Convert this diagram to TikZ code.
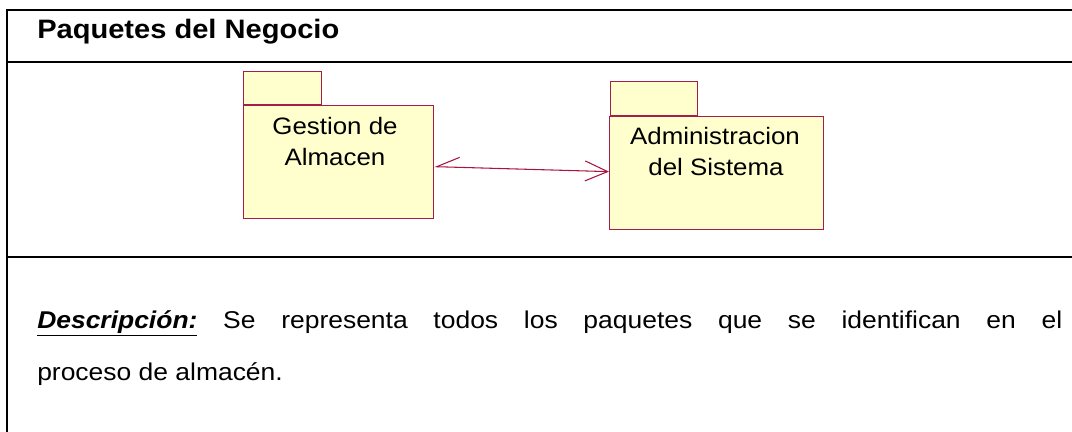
\documentclass[tikz,border=0pt]{standalone}
\usepackage{fontspec}
\usepackage{graphicx}
\setmainfont{Liberation Sans}
\usetikzlibrary{arrows.meta}
\definecolor{pkgline}{RGB}{165,30,75}
\definecolor{pkgfill}{RGB}{255,255,206}
\definecolor{assoc}{RGB}{170,20,65}
\newcommand\hstretch[1]{\scalebox{1.09}[1]{#1}}
\begin{document}
\begin{tikzpicture}[x=0.75pt,y=-0.75pt,
  frame/.style={line width=1.8pt,black},
  pkgbody/.style={draw=pkgline,fill=pkgfill,line width=0.9pt,rectangle,inner sep=0pt,anchor=north west},
  pkgtab/.style={draw=pkgline,fill=pkgfill,line width=0.9pt,rectangle,inner sep=0pt,anchor=south west},
  pkgtext/.style={inner sep=0pt,anchor=base,font=\fontsize{17.8pt}{21pt}\selectfont},
  titletext/.style={inner sep=0pt,anchor=base west,font=\fontsize{20pt}{24pt}\selectfont\bfseries},
  desctext/.style={inner sep=0pt,anchor=base west,font=\fontsize{18.2pt}{22pt}\selectfont},
  assocline/.style={draw=assoc,line width=0.8pt}
]
\useasboundingbox (0,0) rectangle (1072,432);
% frame
\coordinate (tl) at (7,10);
\coordinate (tr) at (1072,10);
\coordinate (ml) at (7,62);
\coordinate (mr) at (1072,62);
\coordinate (ll) at (7,257);
\coordinate (lr) at (1072,257);
\coordinate (bl) at (7,432);
\draw[frame] ([xshift=-0.9pt]tl) -- (tr);
\draw[frame] (ml) -- (mr);
\draw[frame] (ll) -- (lr);
\draw[frame] (tl) -- (bl);
% title
\node[titletext] (title) at (37,38) {\hstretch{Paquetes del Negocio}};
% package A
\node[pkgtab, minimum width=58.5pt, minimum height=24.75pt] (tabA) at (243,105) {};
\node[pkgbody, minimum width=142.5pt, minimum height=84.75pt] (pkgA) at (243,105) {};
\node[pkgtext] (gA1) at (335,134) {\hstretch{Gestion de}};
\node[pkgtext] (gA2) at (335,165) {\hstretch{Almacen}};
% package B
\node[pkgtab, minimum width=65.25pt, minimum height=25.5pt] (tabB) at (610,116) {};
\node[pkgbody, minimum width=160.5pt, minimum height=84.75pt] (pkgB) at (609,116) {};
\node[pkgtext] (gB1) at (715,144) {\hstretch{Administracion}};
\node[pkgtext] (gB2) at (716,175) {\hstretch{del Sistema}};
% association
\draw[assocline, {Straight Barb[right,length=17pt,width=15pt]}-{Straight Barb[length=17pt,width=15pt]}]
  ([yshift=-3.4pt]pkgA.east) -- ([yshift=1.1pt]pkgB.west);
% description
\node[desctext] (d1) at (37,328) {\hstretch{\makebox[705.3pt][s]{\textbf{\textit{\underline{Descripción:}}} Se representa todos los paquetes que se identifican en el}}};
\node[desctext] (d2) at (37,380) {\hstretch{proceso de almacén.}};
\end{tikzpicture}
\end{document}
